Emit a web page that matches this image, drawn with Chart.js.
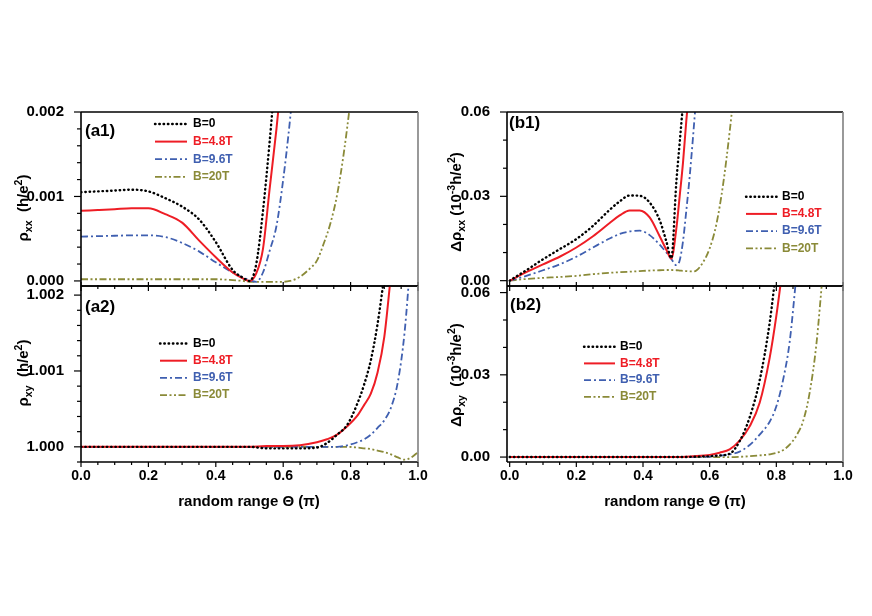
<!DOCTYPE html>
<html>
<head>
<meta charset="utf-8">
<script src="https://cdn.jsdelivr.net/npm/chart.js@4.4.0/dist/chart.umd.min.js"></script>
<style>
  html, body { margin: 0; padding: 0; background: #fff; }
  #wrap { position: relative; width: 872px; height: 616px; overflow: hidden;
          font-family: Arial, "Liberation Sans", sans-serif; font-weight: bold; color: #000; }
  #wrap canvas { position: absolute; left: 0; top: 0; }
  .plabel { position: absolute; white-space: nowrap; font-size: 17px; line-height: 18px; }
  .ytitle { position: absolute; white-space: nowrap; font-size: 15px; line-height: 1;
            transform: translate(-50%, -50%) rotate(-90deg); }
  .xtitle { position: absolute; white-space: nowrap; font-size: 15px; line-height: 1;
            transform: translate(-50%, -50%); }
  sub, sup { font-size: 70%; line-height: 0; }
</style>
</head>
<body>
<div id="wrap">
  <canvas id="a1" width="872" height="616"></canvas>
  <canvas id="a2" width="872" height="616"></canvas>
  <canvas id="b1" width="872" height="616"></canvas>
  <canvas id="b2" width="872" height="616"></canvas>

  <div class="plabel" style="left:85px; top:122px;">(a1)</div>
  <div class="plabel" style="left:85px; top:298px;">(a2)</div>
  <div class="plabel" style="left:509px; top:114px;">(b1)</div>
  <div class="plabel" style="left:510px; top:296px;">(b2)</div>

  <div class="ytitle" style="left:22px; top:208px;">ρ<sub>xx</sub>&nbsp; (h/e<sup>2</sup>)</div>
  <div class="ytitle" style="left:22px; top:373px;">ρ<sub>xy</sub>&nbsp; (h/e<sup>2</sup>)</div>
  <div class="ytitle" style="left:455px; top:202px;">Δρ<sub>xx</sub> (10<sup>-3</sup>h/e<sup>2</sup>)</div>
  <div class="ytitle" style="left:455px; top:375px;">Δρ<sub>xy</sub>&nbsp; (10<sup>-3</sup>h/e<sup>2</sup>)</div>

  <div class="xtitle" style="left:249px; top:500px;">random range Θ (π)</div>
  <div class="xtitle" style="left:675px; top:500px;">random range Θ (π)</div>
</div>

<script>
// series names and x ticks
const seriesLabels = ['B=0', 'B=4.8T', 'B=9.6T', 'B=20T'];
const xTicks = [0, 0.2, 0.4, 0.6, 0.8, 1.0];

// (a1) rho_xx
const a1Theta = [0, 0.05, 0.1, 0.15, 0.2, 0.25, 0.3, 0.35, 0.4, 0.45, 0.48, 0.5, 0.52, 0.54, 0.56, 0.58, 0.6, 0.62, 0.65, 0.68, 0.7, 0.72, 0.74, 0.76, 0.78, 0.8, 0.82];
const a1B0  = [0.00105, 0.00106, 0.00107, 0.00108, 0.00106, 0.00098, 0.00088, 0.00073, 0.00046, 0.00013, 0.00004, 0.0, 0.0002, 0.00083, 0.00166, 0.0026];
const a1B48 = [0.00083, 0.00084, 0.00085, 0.00086, 0.00086, 0.00079, 0.00069, 0.00048, 0.00028, 0.0001, 0.00003, 0.0, 0.00009, 0.00038, 0.0011, 0.0018, 0.0026];
const a1B96 = [0.000524, 0.00053, 0.000535, 0.00054, 0.00054, 0.00052, 0.00045, 0.00035, 0.00022, 0.0001, 0.00004, 0.00001, -0.00001, 0.0001, 0.00036, 0.00065, 0.0012, 0.0019, 0.0032];
const a1B20 = [0.00002, 0.00002, 0.00002, 0.00002, 0.00002, 0.00002, 0.00002, 0.00002, 0.00002, 0.00001, 0.0, -0.00001, -0.00001, -0.00001, -0.00001, -0.00001, -0.00001, 0.0, 0.00005, 0.00015, 0.00024, 0.00044, 0.00068, 0.00102, 0.00152, 0.00215, 0.0029];
const a1YTicks = [0, 0.001, 0.002];

// (a2) rho_xy
const a2Theta = [0, 0.1, 0.2, 0.3, 0.4, 0.5, 0.55, 0.6, 0.65, 0.7, 0.73, 0.76, 0.79, 0.82, 0.84, 0.86, 0.88, 0.9, 0.92, 0.94, 0.96, 0.98, 1.0];
const a2B0  = [1.0, 1.0, 1.0, 1.0, 1.0, 1.0, 0.99998, 0.99998, 0.99998, 0.99999, 1.00005, 1.00016, 1.00029, 1.00057, 1.00082, 1.00114, 1.00162, 1.00225];
const a2B48 = [1.0, 1.0, 1.0, 1.0, 1.0, 1.0, 1.00001, 1.00001, 1.00002, 1.00006, 1.0001, 1.00016, 1.00027, 1.00041, 1.00055, 1.0007, 1.00098, 1.00145, 1.00228];
const a2B96 = [1.0, 1.0, 1.0, 1.0, 1.0, 1.0, 1.0, 1.0, 1.0, 1.0, 1.0, 1.0, 1.00002, 1.00006, 1.0001, 1.00016, 1.00025, 1.00035, 1.00052, 1.00085, 1.0015, 1.0026];
const a2B20 = [1.0, 1.0, 1.0, 1.0, 1.0, 1.0, 1.0, 1.0, 1.0, 1.0, 1.0, 1.0, 1.0, 0.99999, 0.99998, 0.99997, 0.99995, 0.99993, 0.9999, 0.99986, 0.99983, 0.99986, 0.99993];
const a2YTicks = [1.000, 1.001, 1.002];

// (b1) delta rho_xx
const b1Theta = [0, 0.05, 0.1, 0.15, 0.2, 0.25, 0.3, 0.33, 0.36, 0.39, 0.42, 0.45, 0.47, 0.485, 0.5, 0.51, 0.52, 0.53, 0.54, 0.55, 0.56, 0.58, 0.6, 0.62, 0.64, 0.66, 0.68];
const b1B0  = [0, 0.0037, 0.0076, 0.0112, 0.0148, 0.0195, 0.0252, 0.0282, 0.0303, 0.0302, 0.0278, 0.0215, 0.014, 0.008, 0.035, 0.049, 0.063];
const b1B48 = [0, 0.003, 0.0058, 0.0085, 0.0118, 0.0158, 0.0205, 0.0232, 0.025, 0.025, 0.0225, 0.0158, 0.011, 0.0078, 0.0185, 0.03, 0.042, 0.057, 0.07];
const b1B96 = [0, 0.0017, 0.0037, 0.0058, 0.0085, 0.0118, 0.015, 0.0166, 0.0175, 0.0178, 0.0162, 0.0128, 0.01, 0.0077, 0.0055, 0.0072, 0.014, 0.025, 0.037, 0.051, 0.066];
const b1B20 = [0, 0.0006, 0.001, 0.0013, 0.0017, 0.0023, 0.0028, 0.003, 0.0032, 0.0034, 0.0036, 0.0037, 0.0038, 0.0038, 0.0037, 0.0036, 0.0035, 0.0034, 0.0033, 0.0033, 0.0036, 0.0065, 0.0115, 0.02, 0.034, 0.053, 0.075];
const b1YTicks = [0, 0.03, 0.06];

// (b2) delta rho_xy
const b2Theta = [0, 0.1, 0.2, 0.3, 0.4, 0.5, 0.55, 0.6, 0.63, 0.66, 0.69, 0.72, 0.75, 0.78, 0.8, 0.82, 0.84, 0.86, 0.88, 0.9, 0.92, 0.94];
const b2B0  = [0, 0, 0, 0, 0, 0, 0.0001, 0.0003, 0.0006, 0.0012, 0.0058, 0.0145, 0.028, 0.049, 0.069];
const b2B48 = [0, 0, 0, 0, 0, 0, 0.0003, 0.0008, 0.0016, 0.0028, 0.006, 0.0112, 0.0198, 0.0362, 0.0515, 0.07];
const b2B96 = [0, 0, 0, 0, 0, 0, 0, 0.0002, 0.0005, 0.001, 0.002, 0.0044, 0.0082, 0.0129, 0.0185, 0.028, 0.042, 0.066];
const b2B20 = [0, 0, 0, 0, 0, 0, 0, 0, 0, 0, 0.0001, 0.0003, 0.0006, 0.001, 0.0015, 0.0025, 0.0045, 0.0078, 0.013, 0.0235, 0.041, 0.068];
const b2YTicks = [0, 0.03, 0.06];

// line styles
const FONT = 'Arial, "Liberation Sans", sans-serif';
const seriesColors = ['#000000', '#ee1d25', '#3f5fb0', '#8a8a38'];
const seriesDash = [[0.5, 3.8], [], [7, 3, 2, 3], [7, 2.5, 2, 2.5, 2, 2.5]];
const seriesWidth = [2.4, 2, 1.8, 1.8];

function buildDatasets(theta, series) {
  return series.map((vals, i) => ({
    label: seriesLabels[i],
    data: vals.map((v, j) => ({ x: theta[j], y: v })),
    borderColor: seriesColors[i],
    borderWidth: seriesWidth[i],
    borderDash: seriesDash[i],
    borderCapStyle: i === 0 ? 'round' : 'butt',
    pointRadius: 0,
    cubicInterpolationMode: 'monotone',
    fill: false
  }));
}

// frame, minor ticks and in-plot legend
const panelDecor = {
  id: 'panelDecor',
  afterDraw(chart, args, o) {
    const { ctx, chartArea: a, scales: { x, y } } = chart;
    const seg = (x1, y1, x2, y2) => { ctx.beginPath(); ctx.moveTo(x1, y1); ctx.lineTo(x2, y2); ctx.stroke(); };
    const isMajor = (v, m) => Math.abs(v / m - Math.round(v / m)) < 1e-6;
    ctx.save();
    ctx.strokeStyle = '#000';
    ctx.lineWidth = 1.2;
    for (let k = Math.ceil(x.min / o.xMinor - 1e-9); k * o.xMinor <= x.max + 1e-9; k++) {
      const v = k * o.xMinor, px = x.getPixelForValue(v);
      const major = isMajor(v, o.xMajor);
      const up = o.xCross ? (major ? 4 : 1) : 0;
      seg(px, a.bottom - up, px, a.bottom + (major ? 5 : 3));
    }
    for (let k = Math.ceil(y.min / o.yMinor - 1e-9); k * o.yMinor <= y.max + 1e-12; k++) {
      const v = k * o.yMinor, py = y.getPixelForValue(v);
      seg(a.left - (isMajor(v, o.yMajor) ? 7 : 4), py, a.left, py);
    }
    ctx.lineWidth = 1.6;
    seg(a.left, a.top, a.right, a.top);
    seg(a.left, a.top, a.left, a.bottom);
    seg(a.left, a.bottom, a.right, a.bottom);
    ctx.strokeStyle = '#808080';
    seg(a.right, a.top, a.right, a.bottom);

    const lg = o.legend;
    chart.data.datasets.forEach((ds, i) => {
      const yy = lg.y + i * lg.gap;
      ctx.strokeStyle = ds.borderColor;
      ctx.lineWidth = ds.borderWidth;
      ctx.lineCap = ds.borderCapStyle;
      ctx.setLineDash(ds.borderDash);
      seg(lg.x1, yy, lg.x2, yy);
      ctx.setLineDash([]);
      ctx.fillStyle = ds.borderColor;
      ctx.font = 'bold 12px ' + FONT;
      ctx.textBaseline = 'middle';
      ctx.textAlign = 'left';
      ctx.fillText(ds.label, lg.tx, yy);
    });
    ctx.restore();
  }
};

function makePanel(id, p) {
  const xH = p.xLabels ? 30 : 0;
  return new Chart(document.getElementById(id), {
    type: 'line',
    data: { datasets: buildDatasets(p.theta, p.series) },
    options: {
      responsive: false,
      animation: false,
      events: [],
      layout: { padding: { left: 0, top: p.area.top, right: 872 - p.area.right, bottom: 616 - p.area.bottom - xH } },
      scales: {
        x: {
          type: 'linear', min: p.xMin, max: 1.0,
          grid: { display: false }, border: { display: false },
          afterBuildTicks: s => { s.ticks = xTicks.map(v => ({ value: v })); },
          afterFit: s => { s.height = xH; },
          ticks: {
            display: p.xLabels, color: '#000', padding: -2, maxRotation: 0, autoSkip: false,
            font: { family: FONT, size: 14, weight: 'bold' },
            callback: v => Number(v).toFixed(1)
          }
        },
        y: {
          type: 'linear', min: p.yMin, max: p.yMax,
          grid: { display: false }, border: { display: false },
          afterBuildTicks: s => { s.ticks = p.yTicks.map(v => ({ value: v })); },
          afterFit: s => { s.width = p.area.left; },
          ticks: {
            color: '#000', padding: 9, autoSkip: false,
            font: { family: FONT, size: 15, weight: 'bold' },
            callback: v => Number(v).toFixed(p.yDigits)
          }
        }
      },
      plugins: {
        legend: { display: false },
        tooltip: { enabled: false },
        panelDecor: p.decor
      }
    },
    plugins: [panelDecor]
  });
}

makePanel('a1', {
  theta: a1Theta, series: [a1B0, a1B48, a1B96, a1B20],
  area: { left: 81, top: 112, right: 418, bottom: 286 },
  xMin: 0, xLabels: false, yMin: -0.00006, yMax: 0.002, yTicks: a1YTicks, yDigits: 3,
  decor: { xMinor: 0.05, xMajor: 0.2, xCross: true, yMinor: 0.0002, yMajor: 0.001,
           legend: { x1: 155, x2: 187, tx: 193, y: 124, gap: 17.6 } }
});

makePanel('a2', {
  theta: a2Theta, series: [a2B0, a2B48, a2B96, a2B20],
  area: { left: 81, top: 286, right: 418, bottom: 462 },
  xMin: 0, xLabels: true, yMin: 0.9998, yMax: 1.00212, yTicks: a2YTicks, yDigits: 3,
  decor: { xMinor: 0.05, xMajor: 0.2, xCross: false, yMinor: 0.0002, yMajor: 0.001,
           legend: { x1: 160, x2: 187, tx: 193, y: 343.5, gap: 17.2 } }
});

makePanel('b1', {
  theta: b1Theta, series: [b1B0, b1B48, b1B96, b1B20],
  area: { left: 507, top: 112, right: 843, bottom: 286 },
  xMin: -0.008, xLabels: false, yMin: -0.0019, yMax: 0.06, yTicks: b1YTicks, yDigits: 2,
  decor: { xMinor: 0.05, xMajor: 0.2, xCross: true, yMinor: 0.01, yMajor: 0.03,
           legend: { x1: 746, x2: 777, tx: 782, y: 196.7, gap: 17.2 } }
});

makePanel('b2', {
  theta: b2Theta, series: [b2B0, b2B48, b2B96, b2B20],
  area: { left: 507, top: 286, right: 843, bottom: 462 },
  xMin: -0.008, xLabels: true, yMin: -0.0018, yMax: 0.0624, yTicks: b2YTicks, yDigits: 2,
  decor: { xMinor: 0.05, xMajor: 0.2, xCross: false, yMinor: 0.01, yMajor: 0.03,
           legend: { x1: 584, x2: 615, tx: 620, y: 346.7, gap: 16.7 } }
});
</script>
</body>
</html>
